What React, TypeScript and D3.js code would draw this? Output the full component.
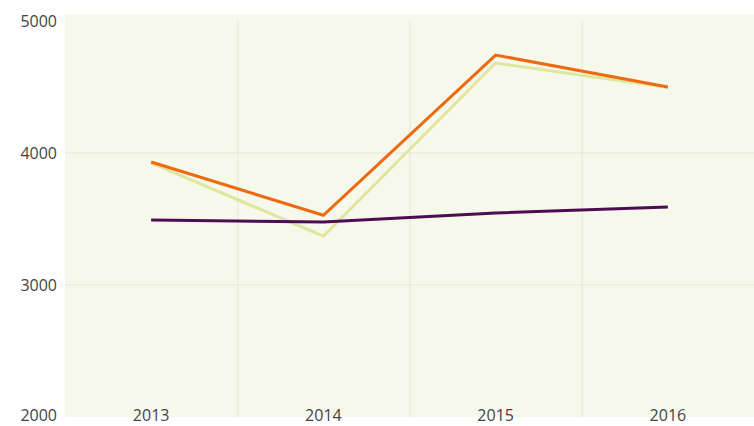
import React from "react";
import * as d3 from "d3";

const years = ["2013", "2014", "2015", "2016"];
const seriesGreen = [3925, 3370, 4682, 4497];
const seriesOrange = [3932, 3528, 4742, 4500];
const seriesPurple = [3492, 3477, 3545, 3591];
const yTicks = [2000, 3000, 4000, 5000];

const W = 754, H = 426;
const left = 65, right = 754, top = 14, bottom = 417;

export default function App() {
  const x = d3.scaleBand<string>().domain(years).range([left, right]);
  const y = d3.scaleLinear().domain([2000, 5000]).range([417, 21]);
  const line = d3
    .line<number>()
    .x((_, i) => (x(years[i]) as number) + x.bandwidth() / 2)
    .y((d) => y(d));
  const series = [
    { v: seriesGreen, c: "#dfe79f" },
    { v: seriesOrange, c: "#ee6a10" },
    { v: seriesPurple, c: "#4b0d50" },
  ];
  return (
    <svg
      width={W}
      height={H}
      style={{ position: "absolute", left: 0, top: 0 }}
      fontFamily="'Open Sans', sans-serif"
    >
      <rect x={left} y={top} width={right - left} height={bottom - top} fill="#f7f8ec" />
      {yTicks
        .filter((t) => t !== 2000 && t !== 5000)
        .map((t) => (
          <line key={t} x1={left} x2={right} y1={y(t)} y2={y(t)} stroke="#e6e8d8" strokeWidth={1} />
        ))}
      {years.slice(1).map((yr) => (
        <line
          key={yr}
          x1={(x(yr) as number) + 0.5}
          x2={(x(yr) as number) + 0.5}
          y1={y(5000)}
          y2={bottom}
          stroke="#e6e8d8"
          strokeWidth={1}
        />
      ))}
      {yTicks.map((t) => (
        <text
          key={t}
          x={57}
          y={t === 2000 ? 421 : y(t)}
          dy={t === 2000 ? 0 : "0.35em"}
          textAnchor="end"
          fontSize={16}
          fill="#444"
        >
          {t}
        </text>
      ))}
      {years.map((yr) => (
        <text
          key={yr}
          x={(x(yr) as number) + x.bandwidth() / 2}
          y={421}
          textAnchor="middle"
          fontSize={16}
          fill="#444"
        >
          {yr}
        </text>
      ))}
      {series.map((s, i) => (
        <path key={i} d={line(s.v) as string} fill="none" stroke={s.c} strokeWidth={3} />
      ))}
    </svg>
  );
}
